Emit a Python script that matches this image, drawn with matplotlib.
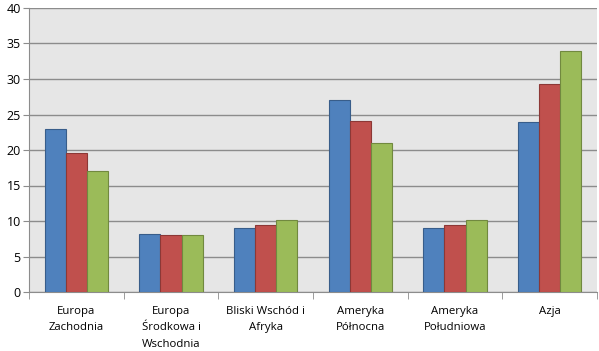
import numpy as np
import matplotlib.pyplot as plt
from matplotlib.ticker import FixedLocator

regions = ["Europa\nZachodnia", "Europa\nŚrodkowa i\nWschodnia", "Bliski Wschód i\nAfryka",
           "Ameryka\nPółnocna", "Ameryka\nPołudniowa", "Azja"]
series1 = [23.0, 8.2, 9.0, 27.0, 9.0, 24.0]
series2 = [19.6, 8.0, 9.5, 24.1, 9.4, 29.3]
series3 = [17.0, 8.0, 10.1, 21.0, 10.1, 34.0]

colors = ["#4F81BD", "#C0504D", "#9BBB59"]
edges = ["#385D8A", "#8C3836", "#71893F"]

plt.rcParams['font.family'] = ['Open Sans', 'DejaVu Sans']

fig = plt.figure(figsize=(5.99, 3.51), dpi=100)
ax = fig.add_axes([29 / 599, 59 / 351, 568 / 599, 284 / 351])
ax.set_facecolor("#E6E6E6")

x = np.arange(len(regions))
w = 1 / 4.5
for i, vals in enumerate([series1, series2, series3]):
    ax.bar(x + (i - 1) * w, vals, width=w, color=colors[i], edgecolor=edges[i], linewidth=0.8, zorder=3)

ax.set_xlim(-0.5, len(regions) - 0.5)
ax.set_ylim(0, 40)
ax.set_yticks(range(0, 41, 5))
ax.yaxis.grid(True, color="#8C8C8C", linewidth=1, zorder=1)

ax.set_xticks(x)
ax.set_xticklabels(regions, fontsize=8.2, linespacing=1.7, va="top")
ax.tick_params(axis="x", which="major", length=0, pad=10)
ax.xaxis.set_minor_locator(FixedLocator(np.arange(-0.5, len(regions), 1)))
ax.tick_params(axis="x", which="minor", length=5, color="#8C8C8C")
ax.tick_params(axis="y", length=4, color="#8C8C8C", labelsize=9, pad=2)

for s in ["top", "right"]:
    ax.spines[s].set_visible(False)
for s in ["left", "bottom"]:
    ax.spines[s].set_color("#8C8C8C")

fig.savefig("out.png", dpi=100)
